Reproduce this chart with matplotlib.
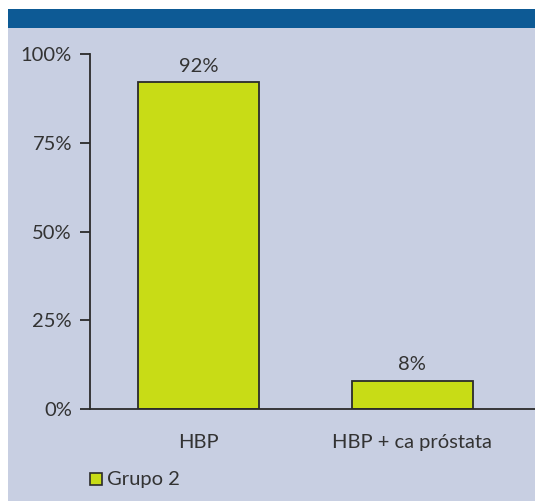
import matplotlib.pyplot as plt
from matplotlib.patches import Rectangle

categorias = ["HBP", "HBP + ca próstata"]
valores = [92, 8]
etiquetas = ["92%", "8%"]
ticks_y = [0, 25, 50, 75, 100]
serie = "Grupo 2"

fondo = "#c8cfe2"
azul = "#0d5a95"
verde = "#c8dc16"
borde = "#2b2b2b"

plt.rcParams["font.family"] = ["Lato", "DejaVu Sans"]
fs = 14.5

W, H = 535, 501
fig = plt.figure(figsize=(W / 100, H / 100), dpi=100)
fig.patch.set_facecolor("white")

# panel de fondo y banda azul superior
fig.patches.append(Rectangle((8 / W, 0), 1, 1 - 28 / H, transform=fig.transFigure,
                             facecolor=fondo, edgecolor="none", zorder=0))
fig.patches.append(Rectangle((8 / W, 1 - 28 / H), 1, 19 / H, transform=fig.transFigure,
                             facecolor=azul, edgecolor="none", zorder=0))

ax = fig.add_axes([90 / W, 1 - 409 / H, (W - 90) / W, (409 - 54) / H])
ax.set_facecolor("none")
ax.set_zorder(2)

x = range(len(categorias))
barras = ax.bar(x, valores, width=0.565, color=verde, edgecolor=borde, linewidth=1.3)
for b, t in zip(barras, etiquetas):
    ax.text(b.get_x() + b.get_width() / 2, b.get_height() + 2, t,
            ha="center", va="bottom", fontsize=fs, color="#333333")

ax.set_xlim(-0.506, 1.573)
ax.set_ylim(0, 100)
ax.set_yticks(ticks_y)
ax.set_yticklabels([f"{v}%" for v in ticks_y], fontsize=fs, color="#333333")
ax.set_xticks(list(x))
ax.set_xticklabels(categorias, fontsize=fs, color="#333333")
ax.tick_params(axis="x", length=0, pad=18)
ax.tick_params(axis="y", length=7, width=1.3, color=borde, pad=6)

for s in ["top", "right"]:
    ax.spines[s].set_visible(False)
for s in ["left", "bottom"]:
    ax.spines[s].set_linewidth(1.3)
    ax.spines[s].set_color(borde)

# leyenda
fig.patches.append(Rectangle((90 / W, 1 - 485 / H), 12 / W, 12 / H, transform=fig.transFigure,
                             facecolor=verde, edgecolor=borde, linewidth=1.2, zorder=3))
fig.text(107 / W, 1 - 479 / H, serie, fontsize=fs, color="#333333", va="center", ha="left")

fig.savefig("out.png", dpi=100)
